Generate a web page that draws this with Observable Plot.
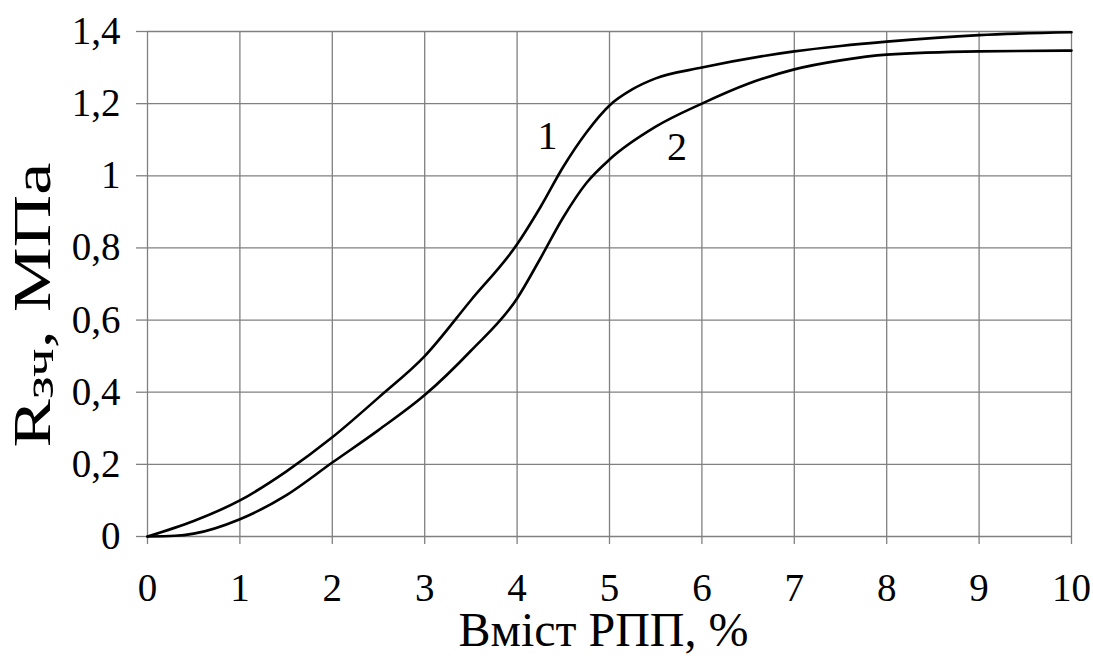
<!DOCTYPE html>
<html>
<head>
<meta charset="utf-8">
<script src="https://cdn.jsdelivr.net/npm/d3@7"></script>
<script src="https://cdn.jsdelivr.net/npm/@observablehq/plot@0.6"></script>
<style>
  html, body { margin: 0; padding: 0; background: #fff; }
  #chart { width: 1093px; height: 665px; overflow: hidden; }
</style>
</head>
<body>
<div id="chart"></div>
<script>
// Curve 1
const x1 = [0, 0.5, 1, 1.5, 2, 2.5, 3, 3.5, 4, 4.25, 4.5, 4.75, 5, 5.25, 5.5, 6, 7, 7.5, 8, 9, 10];
const y1 = [0, 0.043, 0.10, 0.18, 0.275, 0.385, 0.50, 0.655, 0.81, 0.912, 1.025, 1.12, 1.195, 1.24, 1.27, 1.30, 1.345, 1.36, 1.372, 1.39, 1.398];
// Curve 2
const x2 = [0, 0.3, 0.5, 1, 1.5, 2, 2.5, 3, 3.5, 4, 4.25, 4.5, 4.75, 5, 5.5, 6, 6.5, 7, 7.5, 8, 9, 10];
const y2 = [0, 0.002, 0.008, 0.048, 0.114, 0.205, 0.295, 0.392, 0.515, 0.66, 0.77, 0.885, 0.98, 1.045, 1.136, 1.20, 1.255, 1.295, 1.32, 1.336, 1.345, 1.347];
// Curve labels
const curveNames = ["1", "2"];
const labelX = [4.33, 5.73];
const labelY = [1.11, 1.078];
// Ticks
const xTicks = [0, 1, 2, 3, 4, 5, 6, 7, 8, 9, 10];
const yTicks = [0, 0.2, 0.4, 0.6, 0.8, 1, 1.2, 1.4];
const yTickLabels = ["0", "0,2", "0,4", "0,6", "0,8", "1", "1,2", "1,4"];
const xTitle = "Вміст РПП, %";
const yTitleMain = "R";
const yTitleSub = "зч";
const yTitleRest = ", МПа";

const series = [
  ...x1.map((x, i) => ({ x, y: y1[i], s: "1" })),
  ...x2.map((x, i) => ({ x, y: y2[i], s: "2" }))
];
const labels = curveNames.map((t, i) => ({ t, x: labelX[i], y: labelY[i] }));

const serif = "'Liberation Serif', 'Times New Roman', serif";
const grid = "#808080";
const plot = Plot.plot({
  width: 1093,
  height: 665,
  marginLeft: 147,
  marginRight: 22,
  marginTop: 31,
  marginBottom: 129,
  style: { fontFamily: serif, fontSize: "39px", background: "#fff", color: "#000" },
  x: { domain: [0, 10] },
  y: { domain: [0, 1.4] },
  marks: [
    Plot.gridX(xTicks, { stroke: grid, strokeOpacity: 1, strokeWidth: 1.3 }),
    Plot.gridY(yTicks, { stroke: grid, strokeOpacity: 1, strokeWidth: 1.3 }),
    Plot.axisX(xTicks, { tickSize: 8, tickPadding: 29, stroke: grid, strokeWidth: 1.3, fontSize: 39, fontFamily: serif, label: null, tickFormat: d => String(d) }),
    Plot.axisY(yTicks, { tickSize: 11, tickPadding: 16, stroke: grid, strokeWidth: 1.3, fontSize: 39, fontFamily: serif, label: null, tickFormat: d => yTickLabels[yTicks.indexOf(d)] }),
    Plot.line(series, { x: "x", y: "y", z: "s", stroke: "#000", strokeWidth: 2.6, curve: "monotone-x" }),
    Plot.text(labels, { x: "x", y: "y", text: "t", fontSize: 40, fontFamily: serif, fill: "#000" }),
    Plot.text([xTitle], { frameAnchor: "bottom", dx: -6, dy: 109, text: d => d, fontSize: 48, fontFamily: serif, fill: "#000" })
  ]
});
document.getElementById("chart").appendChild(plot);

const svg = d3.select(plot);

// Y title with subscript
const g = svg.append("g");
const t = g.append("text")
  .attr("text-anchor", "middle")
  .attr("font-family", serif)
  .attr("font-size", 53)
  .attr("fill", "#000");
t.append("tspan").text(yTitleMain);
t.append("tspan").attr("font-size", 42).attr("dy", 3).text(yTitleSub);
t.append("tspan").attr("dy", -3).text(yTitleRest);
const len = t.node().getComputedTextLength() || 240;
const k = Math.max(1, Math.min(1.4, 285 / len));
g.attr("transform", `translate(50,305) rotate(-90) scale(${k},1)`);
</script>
</body>
</html>
